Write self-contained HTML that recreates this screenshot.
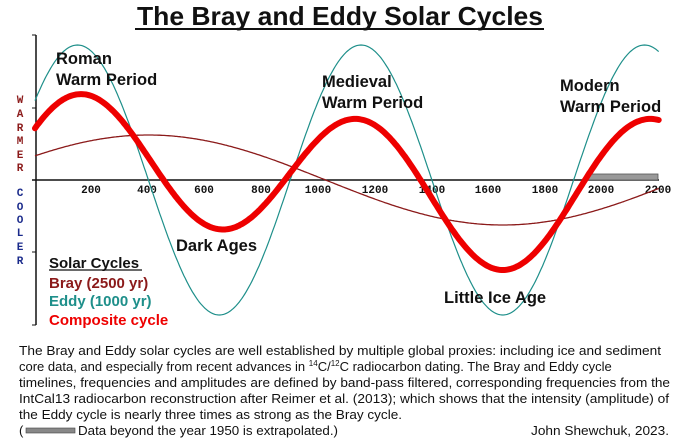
<!DOCTYPE html>
<html><head><meta charset="utf-8"><style>
body{margin:0;background:#fff;width:680px;height:441px;overflow:hidden}
svg{position:absolute;left:0;top:0}
.b{font-family:"Liberation Sans",Arial,sans-serif;font-weight:bold}
.t{font-family:"Liberation Sans",Arial,sans-serif;font-size:13px;fill:#111}
.m{font-family:"Liberation Mono",monospace;font-weight:bold;font-size:11px}
</style></head><body>
<svg width="680" height="441" xmlns="http://www.w3.org/2000/svg">
<text x="137" y="25" class="b" font-size="26" textLength="406" lengthAdjust="spacingAndGlyphs" fill="#111">The Bray and Eddy Solar Cycles</text>
<line x1="135" y1="29" x2="544" y2="29" stroke="#111" stroke-width="2"/>
<line x1="36" y1="35" x2="36" y2="325" stroke="#111" stroke-width="1.5"/>
<g stroke="#111" stroke-width="1"><line x1="32" y1="35" x2="36" y2="35"/><line x1="32" y1="108" x2="36" y2="108"/><line x1="32" y1="252" x2="36" y2="252"/><line x1="32" y1="325" x2="36" y2="325"/></g>
<line x1="32" y1="180" x2="659" y2="180" stroke="#111" stroke-width="1.5"/>
<rect x="586" y="174" width="72" height="6" fill="#999" stroke="#555" stroke-width="0.8"/>
<g class="m" fill="#111" text-anchor="middle" font-size="10">
<text x="91" y="193">200</text><text x="147" y="193">400</text><text x="204" y="193">600</text><text x="261" y="193">800</text><text x="318" y="193">1000</text><text x="375" y="193">1200</text><text x="432" y="193">1400</text><text x="488" y="193">1600</text><text x="545" y="193">1800</text><text x="601" y="193">2000</text><text x="658" y="193">2200</text></g>
<g class="m" fill="#8b1a1a" text-anchor="middle">
<text x="20" y="103">W</text><text x="20" y="117">A</text><text x="20" y="131">R</text><text x="20" y="144">M</text><text x="20" y="158">E</text><text x="20" y="171">R</text></g>
<g class="m" fill="#1a2a8b" text-anchor="middle">
<text x="20" y="196">C</text><text x="20" y="210">O</text><text x="20" y="223">O</text><text x="20" y="236">L</text><text x="20" y="250">E</text><text x="20" y="264">R</text></g>
<path id="bray" fill="none" stroke="#8b1a1a" stroke-width="1.3"/>
<path id="eddy" fill="none" stroke="#1e8f8a" stroke-width="1.2"/>
<path id="comp" fill="none" stroke="#ee0000" stroke-width="6" stroke-linecap="round"/>
<g class="b" font-size="16.5" fill="#111">
<text x="56" y="64">Roman</text><text x="56" y="85">Warm Period</text>
<text x="322" y="87">Medieval</text><text x="322" y="108">Warm Period</text>
<text x="560" y="91">Modern</text><text x="560" y="112">Warm Period</text>
<text x="176" y="251">Dark Ages</text>
<text x="444" y="303">Little Ice Age</text></g>
<g class="b" font-size="15">
<text x="49" y="268" fill="#111">Solar Cycles</text>
<text x="49" y="288" fill="#8b1a1a">Bray  (2500 yr)</text>
<text x="49" y="306" fill="#1e8f8a">Eddy (1000 yr)</text>
<text x="49" y="325" fill="#ee0000">Composite cycle</text></g>
<line x1="49" y1="270" x2="142" y2="270" stroke="#111" stroke-width="1.2"/>
<g class="t">
<text x="19" y="355" textLength="642" lengthAdjust="spacingAndGlyphs">The Bray and Eddy solar cycles are well established by multiple global proxies: including ice and sediment</text>
<text x="19" y="371">core data, and especially from recent advances in <tspan font-size="8" dy="-5">14</tspan><tspan dy="5">C/</tspan><tspan font-size="8" dy="-5">12</tspan><tspan dy="5">C radiocarbon dating.  The Bray and Eddy cycle</tspan></text>
<text x="19" y="387" textLength="651" lengthAdjust="spacingAndGlyphs">timelines, frequencies and amplitudes are defined by band-pass filtered, corresponding frequencies from the</text>
<text x="19" y="403" textLength="650" lengthAdjust="spacingAndGlyphs">IntCal13 radiocarbon reconstruction after Reimer et al. (2013); which shows that the intensity (amplitude) of</text>
<text x="19" y="419" textLength="383" lengthAdjust="spacingAndGlyphs">the Eddy cycle is nearly three times as strong as the Bray cycle.</text>
<text x="19" y="435">(</text>
<text x="78" y="435" textLength="260" lengthAdjust="spacingAndGlyphs">Data beyond the year 1950 is extrapolated.)</text>
<text x="531" y="435" textLength="138" lengthAdjust="spacingAndGlyphs">John Shewchuk, 2023.</text></g>
<rect x="26" y="428" width="49" height="5" fill="#888" stroke="#444" stroke-width="0.6"/>
</svg>
<script>
var X=function(t){return 35+t*0.2835;};
var E=function(t){return 135*Math.cos(2*Math.PI*(t-150)/1000);};
var B=function(t){return 45*Math.cos(2*Math.PI*(t-400)/2500);};
function p(f,t0,t1){var s="";for(var t=t0;t<=t1;t+=5){s+=(t==t0?"M":"L")+X(t).toFixed(1)+","+(180-f(t)).toFixed(1);}return s;}
document.getElementById("bray").setAttribute("d",p(B,0,2200));
document.getElementById("eddy").setAttribute("d",p(E,0,2200));
document.getElementById("comp").setAttribute("d",p(function(t){return 0.5*(E(t)+B(t));},0,2200));
</script>
</body></html>
